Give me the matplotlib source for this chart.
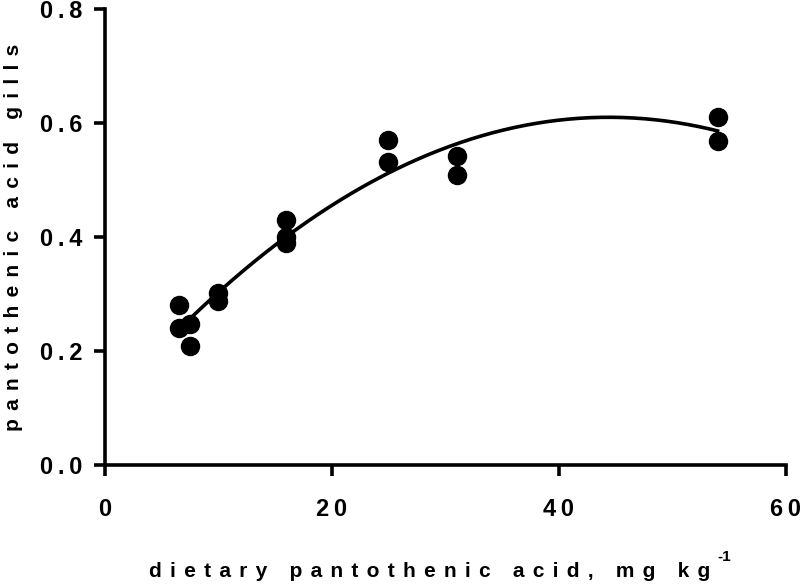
import numpy as np
import matplotlib
matplotlib.use("Agg")
import matplotlib.pyplot as plt

plt.rcParams['font.family'] = ['Liberation Sans', 'DejaVu Sans']
plt.rcParams['font.weight'] = 'bold'

dose = [6.5, 6.5, 7.5, 7.5, 10, 10, 16, 16, 16, 25, 25, 31, 31, 54, 54]
gills = [0.28, 0.24, 0.248, 0.208, 0.301, 0.287, 0.43, 0.40, 0.39, 0.57, 0.531, 0.542, 0.509, 0.611, 0.569]

x_ticks = [0, 20, 40, 60]
y_ticks = [0.0, 0.2, 0.4, 0.6, 0.8]

x_label = 'dietary pantothenic acid, mg kg'
y_label = 'pantothenic acid gills'


def spaced(s, gap='\u2009'):
    # the original figure uses wide letter spacing
    return gap.join(s)


# second order polynomial fit
coef = np.polyfit(dose, gills, 2)
xs = np.linspace(min(dose), max(dose), 200)
ys = np.polyval(coef, xs)

fig = plt.figure(figsize=(8, 5.87), dpi=100)
ax = fig.add_axes([0.131, 0.208, 0.851, 0.7767])

ax.plot(xs, ys, 'k-', lw=2.6, zorder=2)
ax.plot(dose, gills, 'o', color='black', ms=13, zorder=3, clip_on=False)

ax.set_xlim(0, 60)
ax.set_ylim(0, 0.8)
ax.set_xticks(x_ticks)
ax.set_yticks(y_ticks)
ax.set_xticklabels([spaced(str(t)) for t in x_ticks])
ax.set_yticklabels([spaced('%.1f' % t) for t in y_ticks])

for side in ['top', 'right']:
    ax.spines[side].set_visible(False)
for side in ['left', 'bottom']:
    ax.spines[side].set_linewidth(2.6)

ax.tick_params(axis='both', direction='out', width=2.6, length=8, labelsize=17)
ax.tick_params(axis='x', pad=16)
ax.tick_params(axis='y', pad=8)

ax.set_xlabel(spaced(x_label, '\u2009\u2009'), fontsize=15, fontweight='bold', labelpad=29, x=0.477)
ax.set_ylabel(spaced(y_label, '\u2009\u2009'), fontsize=15, fontweight='bold', labelpad=12)
ax.annotate('-1', xy=(1, 1), xycoords=ax.xaxis.label, xytext=(5, 3),
            textcoords='offset points', fontsize=11, fontweight='bold',
            ha='left', va='center')

fig.savefig('out.png', dpi=100)
